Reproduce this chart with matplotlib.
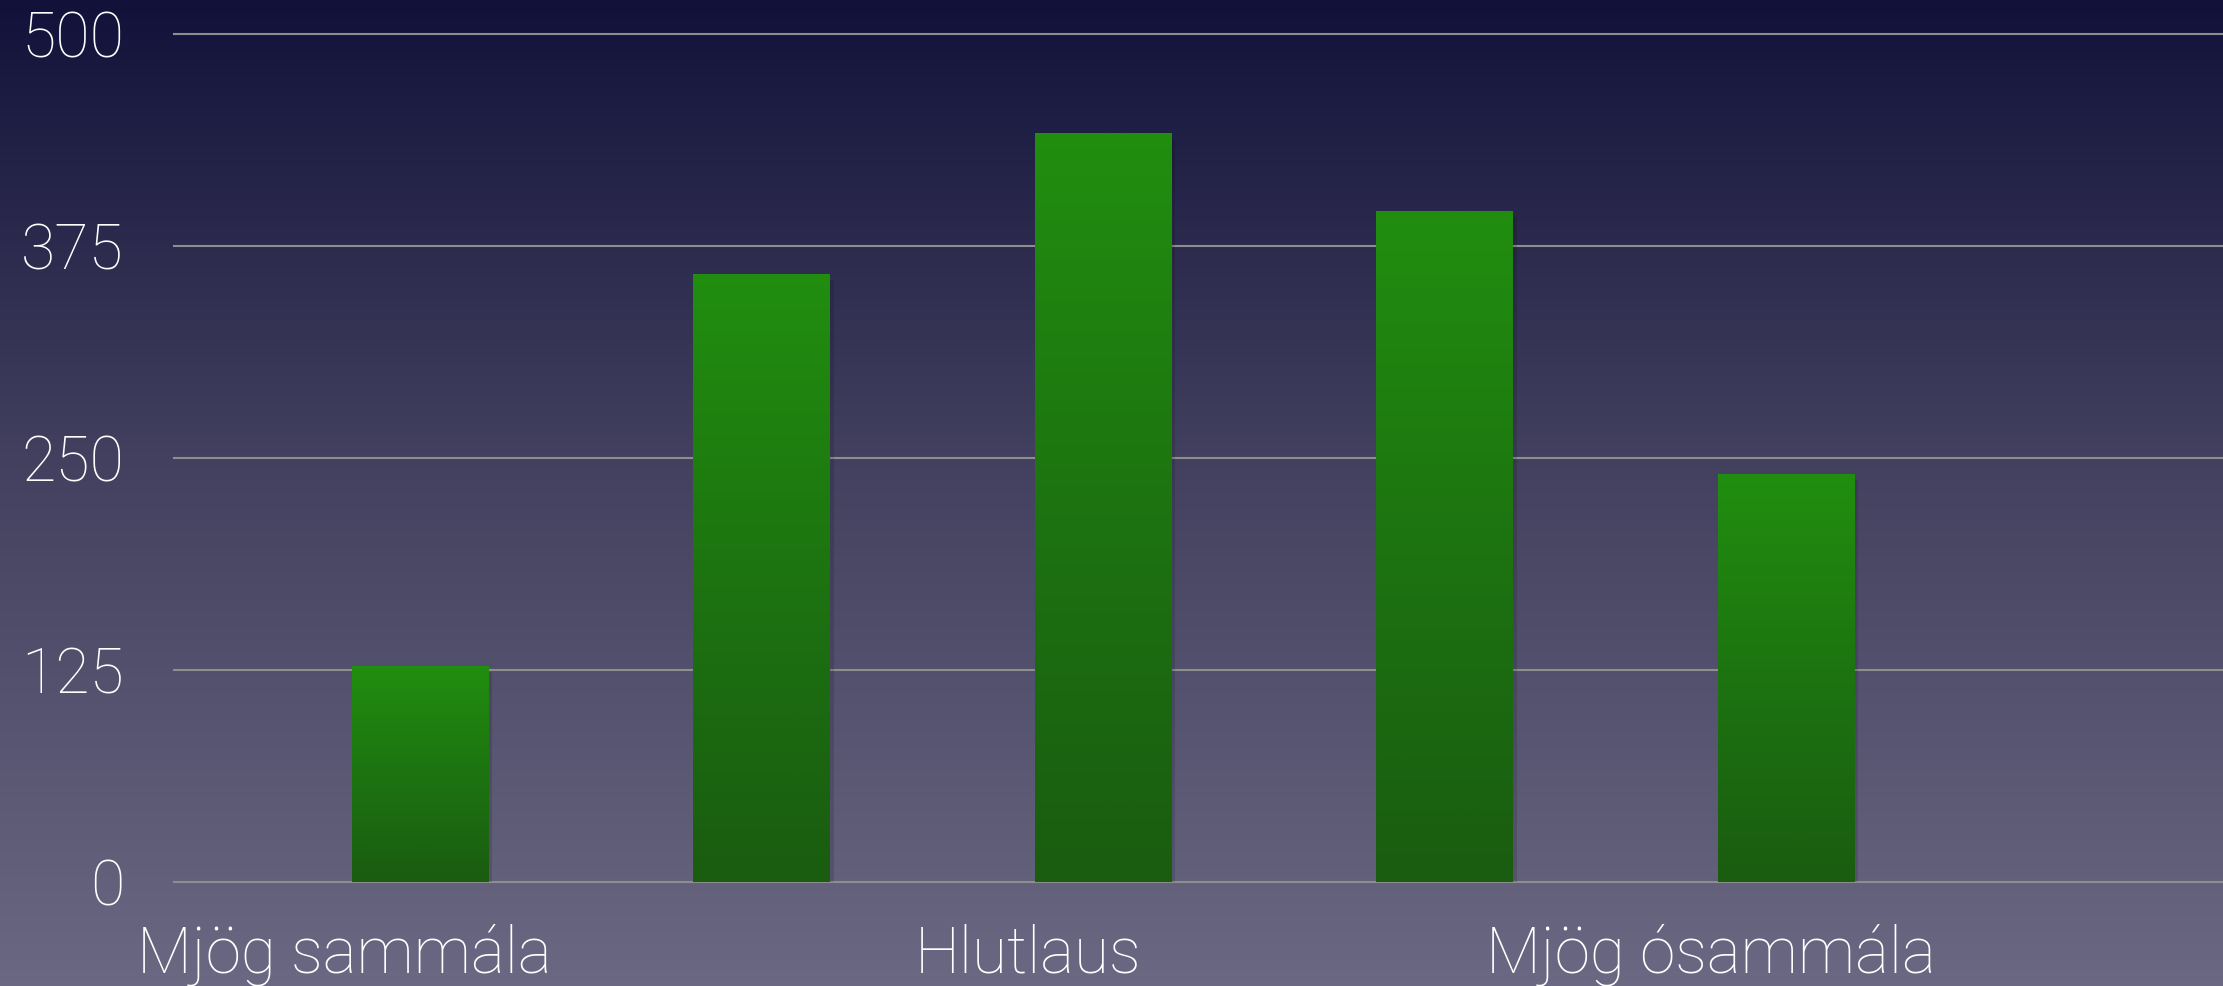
import numpy as np
import matplotlib.pyplot as plt
from matplotlib.colors import LinearSegmentedColormap

# survey answers, five point scale (only every other label is printed)
categories = ['Mjög sammála', '', 'Hlutlaus', '', 'Mjög ósammála']
counts = [127, 358, 441, 395, 240]
y_ticks = [0, 125, 250, 375, 500]

plt.rcParams['font.family'] = ['Roboto', 'DejaVu Sans']

fig = plt.figure(figsize=(22.23, 9.86), dpi=100)

# dark blue -> grey violet backdrop
bg = fig.add_axes([0, 0, 1, 1], zorder=-10)
bg_cmap = LinearSegmentedColormap.from_list(
    'bg', [(0.0, '#12113a'), (0.46, '#42405e'), (1.0, '#6a6882')])
bg.imshow(np.linspace(0, 1, 256).reshape(-1, 1), aspect='auto', cmap=bg_cmap,
          extent=[0, 1, 0, 1], origin='upper')
bg.set_axis_off()

ax = fig.add_axes([0.0783, 0.1055, 0.9217, 0.8603])
ax.set_facecolor('none')

x = np.arange(len(counts)) + 0.22
bars = ax.bar(x, counts, width=0.40, color='none', zorder=3)

# each bar fades from bright green at its top to a darker green at the base
bar_cmap = LinearSegmentedColormap.from_list(
    'bar', [(0.0, '#1a5c10'), (0.55, '#1d7610'), (1.0, '#218e0f')])
grad = np.linspace(0, 1, 256).reshape(-1, 1)
for rect in bars:
    x0, w, h = rect.get_x(), rect.get_width(), rect.get_height()
    # soft drop shadow
    ax.bar(x0 + w / 2 + 0.012, h, width=w, bottom=-3, color='black',
           alpha=0.12, zorder=2, linewidth=0)
    ax.imshow(grad, extent=[x0, x0 + w, 0, h], aspect='auto', cmap=bar_cmap,
              origin='lower', zorder=4)

ax.set_xlim(-0.5, 5.5)
ax.set_ylim(0, 500)

ax.set_yticks(y_ticks)
ax.set_yticklabels([str(v) for v in y_ticks])
ax.set_xticks(np.arange(len(categories)))
ax.set_xticklabels(categories)

ax.tick_params(axis='y', length=0, pad=36, labelsize=45, labelcolor='white')
ax.tick_params(axis='x', length=0, pad=30, labelsize=46, labelcolor='white')
for lab in ax.get_xticklabels() + ax.get_yticklabels():
    lab.set_fontweight('light')

ax.grid(axis='y', color='#8e8e8e', linewidth=1.5, zorder=1)
ax.set_axisbelow(True)
for gl in ax.get_ygridlines():
    gl.set_clip_on(False)

for side in ax.spines.values():
    side.set_visible(False)

fig.savefig('out.png', dpi=100)
